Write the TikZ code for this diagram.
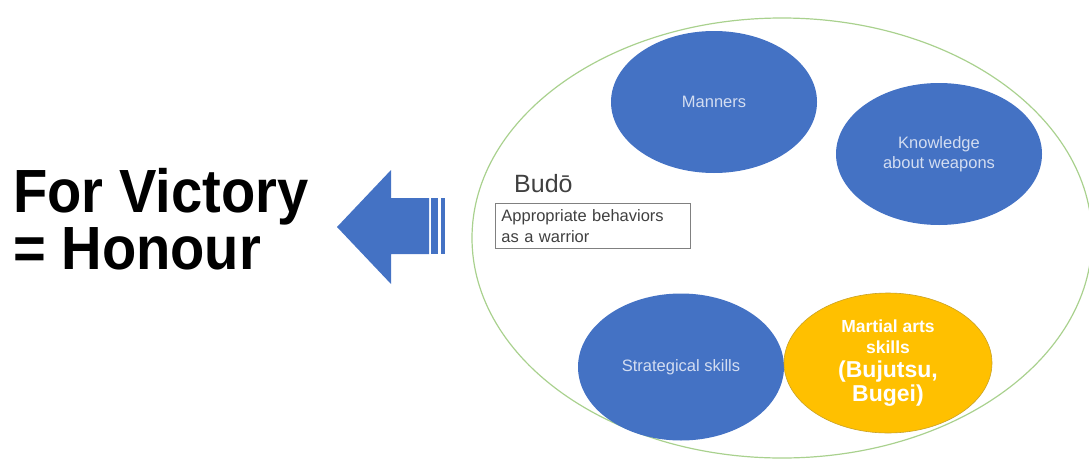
\documentclass[tikz,border=0pt]{standalone}
\usepackage{fontspec}
\setmainfont{Liberation Sans}
\newfontfamily\bigfont[FakeStretch=0.92]{Liberation Sans}
\usetikzlibrary{shapes.geometric}

\definecolor{budoblue}{HTML}{4472C4}
\definecolor{budogold}{HTML}{FFC000}
\definecolor{goldedge}{HTML}{C9A227}
\definecolor{ringgreen}{HTML}{A9D18E}
\definecolor{paletext}{HTML}{D3DDF1}
\definecolor{darktext}{HTML}{404040}

\tikzset{
  skill/.style={ellipse, fill=budoblue, inner sep=0pt,
    minimum width=206pt, minimum height=142pt,
    text=paletext, align=center, font=\fontsize{16.5}{20}\selectfont},
  goldskill/.style={skill, fill=budogold, draw=goldedge, line width=0.6pt,
    text=white, font=\bfseries\fontsize{17.5}{21}\selectfont},
}

\begin{document}
\begin{tikzpicture}[x=1pt,y=-1pt]
    \useasboundingbox (0,0) rectangle (1089,458);

    % big text on the left
    \node[anchor=base west, align=left, inner sep=0pt,
      font=\bigfont\bfseries\fontsize{61}{57}\selectfont] (victory) at (13,269)
      {For Victory\\= Honour};

    % block arrow with striped tail
    \fill[budoblue] (337,227) -- (391,170) -- (391,198) -- (429,198)
      -- (429,254) -- (391,254) -- (391,284) -- cycle;
    \fill[budoblue] (431,198) rectangle (438,254);
    \fill[budoblue] (441,198) rectangle (445,254);

    % the budo ring
    \draw[ringgreen, line width=1.2pt] (782,238) ellipse [x radius=310, y radius=220];

    \node[anchor=base west, inner sep=0pt, text=darktext,
      font=\fontsize{25}{28}\selectfont] (budo) at (514,192) {Budō};
    \node[draw=gray, line width=0.8pt, anchor=north west, minimum width=195pt,
      minimum height=45pt, text width=183pt, inner xsep=6pt, inner ysep=3pt,
      align=left, text=darktext, font=\fontsize{16.5}{21}\selectfont] (behave) at (495,203)
      {Appropriate behaviors\\as a warrior};

    \node[skill] (manners) at (714,102) {Manners};
    \node[skill] (weapons) at (939,154) {Knowledge\\about weapons};
    \node[skill, minimum height=147pt] (strategy) at (681,367) {Strategical skills};
    \node[goldskill, minimum width=208pt, minimum height=140pt] (martial) at (888,363)
      {Martial arts\\skills\\[3pt]{\fontsize{23}{26}\selectfont (Bujutsu,}\\[1pt]
       {\fontsize{23}{26}\selectfont Bugei)}};
\end{tikzpicture}
\end{document}
